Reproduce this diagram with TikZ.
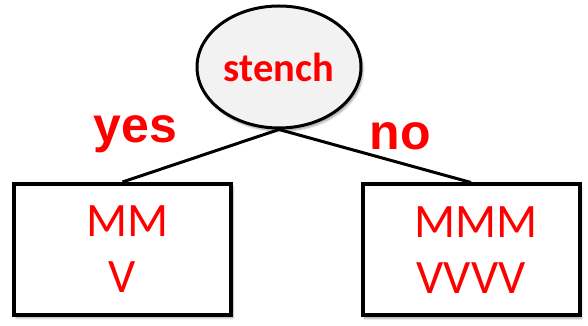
\documentclass[tikz,border=0pt]{standalone}
\usepackage{fontspec}
\setmainfont{Carlito}
\newfontfamily\arialfont{Liberation Sans}
\usetikzlibrary{positioning}
\usetikzlibrary{shapes}
\usetikzlibrary{shadows.blur}
\definecolor{labelred}{RGB}{255,0,0}
\definecolor{ellipsegray}{RGB}{242,242,242}
\tikzset{attr/.style={ellipse, draw, line width=3pt, fill=ellipsegray, minimum width=164pt, minimum height=122pt, inner sep=0pt, text=labelred, font=\bfseries\fontsize{40.5}{44}\selectfont, blur shadow={shadow xshift=2pt, shadow yshift=-3pt, shadow blur steps=6, shadow opacity=35}}}
\tikzset{leaf/.style={rectangle, draw, line width=4pt, fill=white, minimum width=217pt, minimum height=131pt, inner sep=0pt, align=center, text=labelred, font=\fontsize{48}{56}\selectfont, blur shadow={shadow xshift=2pt, shadow yshift=-3pt, shadow blur steps=6, shadow opacity=35}}}
\tikzset{answer/.style={anchor=base, text=labelred, font=\arialfont\bfseries\fontsize{50}{54}\selectfont}}
\tikzset{branch/.style={line width=3pt}}

\begin{document}
\begin{tikzpicture}[x=1pt,y=1pt]

    \useasboundingbox (0,0) rectangle (588,326);

    % Test node.
    \node [attr] (stench) at (279,259) {stench};

    % Leaves.
    \node [leaf] (leafyes) at (122.5,76.5) {\hspace*{10pt}MM\\V};
    \node [leaf] (leafno) at (471,76) {\hspace*{10pt}MMM\\VVVV};

    % Branches.
    \draw [branch] (stench.south) -- (leafyes.north);
    \draw [branch] (stench.south) -- (leafno.north);

    % Branch labels.
    \node [answer] (yes) at (135.5,183) {yes};
    \node [answer] (no) at (400,176) {no};

\end{tikzpicture}
\end{document}
